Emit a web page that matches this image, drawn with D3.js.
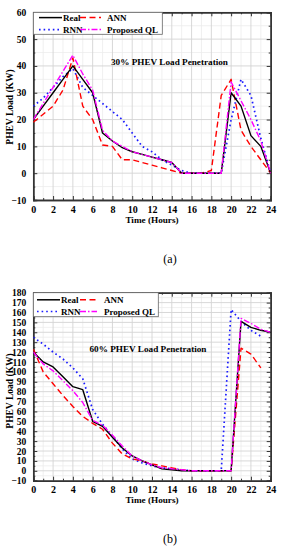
<!DOCTYPE html>
<html><head><meta charset="utf-8">
<script src="https://cdn.jsdelivr.net/npm/d3@7"></script>
<style>
body{margin:0;background:#fff;}
svg{display:block;}
text{font-family:"Liberation Serif","Times New Roman",serif;}
</style></head>
<body>
<svg id="chart" width="283" height="550"></svg>
<script>
// ---------- DATA ----------
const hours = d3.range(0, 25);
const seriesNames = ["Real", "ANN", "RNN", "Proposed QL"];

// (a) 30% penetration
const realA     = [20,25,30,35,40,35,30,15,12,9.5,8,7,6,5,4,0,0,0,0,0,30,25,14,10,0];
const annA      = [19,22,25,31,43,25,20,10.5,10,5,5,4,3,2,1,0,0,0,1,29,35,16,10,5,0];
const rnnA      = [25,28,32,36,39,32,29,26,23,20,15,10,8,5,3,1,0,0,0,0,20,35,29,13,0];
const proposedA = [20,26,32,38,44,37,31,16,12,10,8,7,6,5,4,0,0,0,0,0,34,27,20,12,0];

// (b) 60% penetration
const realB     = [120,110,105,95,85,82,50,45,34,23,15,10,6,2,1,0,0,0,0,0,0,151,145,142,140];
const annB      = [123,100,88,76,65,55,48,42,28,17,12,10,7,5,3,1,0,0,0,0,0,124,118,104,null];
const rnnB      = [135,128,120,113,104,93,62,47,35,22,12,8,5,3,2,1,0,0,0,0,163,151,142,136,null];
const proposedB = [120,108,101,91,81,69,51,46,36,25,15,10,6,3,2,1,0,0,0,0,0,154,149,143,140];

const xTicks = d3.range(0, 25, 2);
const yTicksA = d3.range(-10, 61, 10);
const yTicksB = d3.range(-10, 181, 10);

const titleA = "30% PHEV Load Penetration";
const titleB = "60% PHEV Load Penetration";
const xLabel = "Time (Hours)";
const yLabel = "PHEV Load (KW)";

// ---------- STYLES ----------
const styles = {
  "Real":        {color:"#000000", dash:null},
  "ANN":         {color:"#ff0000", dash:"6,3.5"},
  "RNN":         {color:"#1a1aff", dash:"1.6,3"},
  "Proposed QL": {color:"#ff00ff", dash:"6,2,1.5,2"}
};

const svg = d3.select("#chart");

function drawPanel(cfg) {
  const {top, bottom, left, right, yMin, yMax, yTicks, minorStep, data, title, titleX, titleY,
         legend, caption, captionY, yLabelY} = cfg;
  const x = d3.scaleLinear().domain([0, 24]).range([left, right]);
  const y = d3.scaleLinear().domain([yMin, yMax]).range([bottom, top]);
  const g = svg.append("g");

  // minor grid
  const minorY = d3.range(yMin, yMax + 0.001, minorStep).filter(v => !yTicks.includes(v));
  g.selectAll(".gym").data(minorY).join("line")
    .attr("x1", left).attr("x2", right).attr("y1", d => y(d)).attr("y2", d => y(d))
    .attr("stroke", "#ececec").attr("stroke-width", 0.8);
  const minorX = d3.range(1, 24, 2);
  g.selectAll(".gxm").data(minorX).join("line")
    .attr("y1", top).attr("y2", bottom).attr("x1", d => x(d)).attr("x2", d => x(d))
    .attr("stroke", "#ececec").attr("stroke-width", 0.8);
  // major grid
  g.selectAll(".gy").data(yTicks).join("line")
    .attr("x1", left).attr("x2", right).attr("y1", d => y(d)).attr("y2", d => y(d))
    .attr("stroke", "#d4d4d4").attr("stroke-width", 0.9);
  g.selectAll(".gx").data(xTicks).join("line")
    .attr("y1", top).attr("y2", bottom).attr("x1", d => x(d)).attr("x2", d => x(d))
    .attr("stroke", "#d4d4d4").attr("stroke-width", 0.9);

  // axes with inward ticks
  const axB = d3.axisBottom(x).tickValues(xTicks).tickSize(-4).tickPadding(5.5).tickFormat(d3.format("d"));
  const axBm = d3.axisBottom(x).tickValues(minorX).tickSize(-2).tickFormat("");
  const axT = d3.axisTop(x).tickValues(xTicks).tickSize(-4).tickFormat("");
  const axTm = d3.axisTop(x).tickValues(minorX).tickSize(-2).tickFormat("");
  const axL = d3.axisLeft(y).tickValues(yTicks).tickSize(-4).tickPadding(7).tickFormat(d3.format("d"));
  const axLm = d3.axisLeft(y).tickValues(minorY).tickSize(-2).tickFormat("");
  const axR = d3.axisRight(y).tickValues(yTicks).tickSize(-4).tickFormat("");
  const axRm = d3.axisRight(y).tickValues(minorY).tickSize(-2).tickFormat("");

  function styleAxis(sel) {
    sel.select(".domain").attr("stroke", "#333").attr("stroke-width", 1.4);
    sel.selectAll(".tick line").attr("stroke", "#333").attr("stroke-width", 1);
    sel.selectAll("text").attr("fill", "#000").attr("font-weight", "bold")
      .attr("font-family", "'Liberation Serif', serif");
  }
  g.append("g").attr("transform", `translate(0,${bottom})`).call(axBm).call(styleAxis);
  g.append("g").attr("transform", `translate(0,${bottom})`).call(axB).call(styleAxis)
    .selectAll("text").attr("font-size", 10);
  g.append("g").attr("transform", `translate(0,${top})`).call(axTm).call(styleAxis);
  g.append("g").attr("transform", `translate(0,${top})`).call(axT).call(styleAxis);
  g.append("g").attr("transform", `translate(${left},0)`).call(axLm).call(styleAxis);
  g.append("g").attr("transform", `translate(${left},0)`).call(axL).call(styleAxis)
    .selectAll("text").attr("font-size", 9.5);
  g.append("g").attr("transform", `translate(${right},0)`).call(axRm).call(styleAxis);
  g.append("g").attr("transform", `translate(${right},0)`).call(axR).call(styleAxis);

  // lines
  const clipId = "clip" + Math.round(top);
  svg.append("clipPath").attr("id", clipId).append("rect")
    .attr("x", left).attr("y", top).attr("width", right - left).attr("height", bottom - top);
  const line = d3.line().defined(d => d.v !== null).x(d => x(d.t)).y(d => y(d.v));
  const lg = g.append("g").attr("clip-path", `url(#${clipId})`);
  ["RNN", "ANN", "Real", "Proposed QL"].forEach(name => {
    const vals = data[name];
    const pts = hours.map((t, i) => ({t, v: vals[i]}));
    const st = styles[name];
    lg.append("path").datum(pts).attr("d", line)
      .attr("fill", "none").attr("stroke", st.color)
      .attr("stroke-width", name === "RNN" ? 1.7 : 1.4)
      .attr("stroke-dasharray", st.dash)
      .attr("stroke-linejoin", "round");
  });

  // title
  g.append("text").attr("x", titleX).attr("y", titleY).attr("font-size", 9.2)
    .attr("font-weight", "bold").text(title);

  // legend
  const L = legend;
  g.append("rect").attr("x", left).attr("y", top).attr("width", L.w).attr("height", L.h)
    .attr("fill", "#fff").attr("stroke", "#666").attr("stroke-width", 0.8);
  const items = [
    {name:"Real", x1:L.c1a, x2:L.c1b, tx:L.c1t, row:0},
    {name:"ANN", x1:L.c2a, x2:L.c2b, tx:L.c2t, row:0},
    {name:"RNN", x1:L.c1a, x2:L.c1b, tx:L.c1t, row:1},
    {name:"Proposed QL", x1:L.c2a, x2:L.c2b, tx:L.c2t, row:1}
  ];
  items.forEach(it => {
    const yy = L.rows[it.row];
    const st = styles[it.name];
    g.append("line").attr("x1", it.x1).attr("x2", it.x2).attr("y1", yy).attr("y2", yy)
      .attr("stroke", st.color).attr("stroke-width", it.name === "RNN" ? 1.7 : 1.5)
      .attr("stroke-dasharray", st.dash);
    g.append("text").attr("x", it.tx).attr("y", yy + 3.2).attr("font-size", 9)
      .attr("font-weight", "bold").text(it.name);
  });

  // axis labels
  g.append("text").attr("x", (left + right) / 2).attr("y", bottom + 22.5).attr("text-anchor", "middle")
    .attr("font-size", 9.2).attr("font-weight", "bold").text(xLabel);
  g.append("text").attr("transform", `translate(13,${yLabelY}) rotate(-90)`).attr("text-anchor", "middle")
    .attr("font-size", 9.5).attr("font-weight", "bold").text(yLabel);

  // caption
  g.append("text").attr("x", 170).attr("y", captionY).attr("text-anchor", "middle")
    .attr("font-size", 12).text(caption);
}

drawPanel({
  top: 12.3, bottom: 200, left: 33.3, right: 270.7, yMin: -10, yMax: 60, yTicks: yTicksA, minorStep: 5,
  data: {"Real": realA, "ANN": annA, "RNN": rnnA, "Proposed QL": proposedA},
  title: titleA, titleX: 111, titleY: 64.5,
  legend: {w: 129, h: 22, rows: [17.6, 29.6], c1a: 39, c1b: 62, c1t: 63, c2a: 80, c2b: 101, c2t: 107},
  caption: "(a)", captionY: 263, yLabelY: 107
});

drawPanel({
  top: 292.7, bottom: 480.7, left: 33.3, right: 270.7, yMin: -10, yMax: 180, yTicks: yTicksB, minorStep: 5,
  data: {"Real": realB, "ANN": annB, "RNN": rnnB, "Proposed QL": proposedB},
  title: titleB, titleX: 89.5, titleY: 352,
  legend: {w: 125, h: 24, rows: [299.8, 311.5], c1a: 37, c1b: 60, c1t: 61, c2a: 80, c2b: 97, c2t: 104},
  caption: "(b)", captionY: 543, yLabelY: 391
});
</script>
</body></html>
